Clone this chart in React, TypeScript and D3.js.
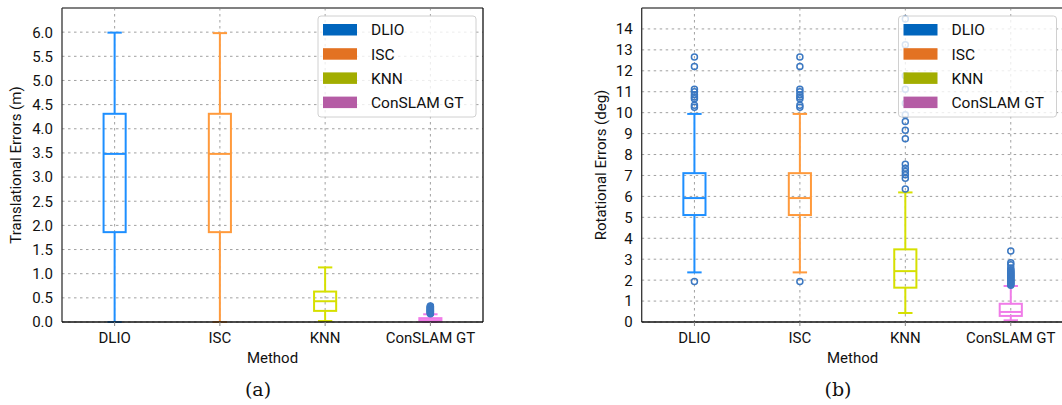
import React from "react";
import * as d3 from "d3";

// categories and legend
const categories = ["DLIO", "ISC", "KNN", "ConSLAM GT"];
const boxColors = ["#1e8fff", "#ff9a3c", "#d6e000", "#f07ce8"];
const legendColors = ["#0065bd", "#e37222", "#a2ad00", "#b55ca5"];

// (a) translational errors (m): box stats per method
const transLow = [0.0, 0.0, 0.02, 0.0];
const transQ1 = [1.86, 1.86, 0.23, 0.01];
const transMed = [3.48, 3.48, 0.43, 0.04];
const transQ3 = [4.31, 4.31, 0.63, 0.08];
const transHigh = [5.99, 5.98, 1.13, 0.16];
const transOutliers = [
  [],
  [],
  [],
  [0.17, 0.18, 0.19, 0.2, 0.21, 0.22, 0.23, 0.24, 0.25, 0.26, 0.27, 0.28, 0.29, 0.3, 0.31, 0.32, 0.33],
];
const transTicks = [0, 0.5, 1, 1.5, 2, 2.5, 3, 3.5, 4, 4.5, 5, 5.5, 6];

// (b) rotational errors (deg)
const rotLow = [2.37, 2.37, 0.43, 0.08];
const rotQ1 = [5.11, 5.11, 1.64, 0.29];
const rotMed = [5.92, 5.92, 2.43, 0.48];
const rotQ3 = [7.11, 7.11, 3.47, 0.87];
const rotHigh = [9.94, 9.94, 6.19, 1.72];
const rotOutliers = [
  [1.94, 10.26, 10.36, 10.67, 10.75, 10.86, 11.0, 11.12, 12.2, 12.66],
  [1.94, 10.26, 10.36, 10.67, 10.75, 10.86, 11.0, 11.12, 12.2, 12.66],
  [6.35, 6.87, 7.03, 7.19, 7.35, 7.54, 8.75, 9.16, 9.58, 9.9, 10.45, 11.12, 11.76, 13.24, 14.47],
  [1.76, 1.8, 1.84, 1.88, 1.92, 1.96, 2.0, 2.04, 2.08, 2.12, 2.16, 2.2, 2.24, 2.28, 2.32, 2.36, 2.4, 2.45, 2.5, 2.58, 2.73, 2.83, 3.39],
];
const rotTicks = [0, 1, 2, 3, 4, 5, 6, 7, 8, 9, 10, 11, 12, 13, 14];

const FONT = "Roboto, 'DejaVu Sans', sans-serif";
const TOP = 8;
const BOTTOM = 322;

type PanelProps = {
  left: number;
  right: number;
  yMax: number;
  ticks: number[];
  fmt: (v: number) => string;
  yLabel: string;
  yLabelX: number;
  caption: string;
  captionX: number;
  low: number[];
  q1: number[];
  med: number[];
  q3: number[];
  high: number[];
  outliers: number[][];
};

const Panel = (p: PanelProps) => {
  const x = d3.scaleBand<string>().domain(categories).range([p.left, p.right]).padding(0);
  const y = d3.scaleLinear().domain([0, p.yMax]).range([BOTTOM, TOP]);
  const boxW = x.bandwidth() * 0.21;
  const capW = boxW * 0.65;
  const midX = (p.left + p.right) / 2;
  const legX = p.right - 165;
  const legY = 16;

  return (
    <g>
      {/* grid */}
      {p.ticks.map((t) => (
        <line key={"gy" + t} x1={p.left} x2={p.right} y1={y(t)} y2={y(t)}
          stroke="#a0a0a0" strokeWidth={1} strokeDasharray="2.5,3.5" />
      ))}
      {categories.map((c) => (
        <line key={"gx" + c} x1={x(c)! + x.bandwidth() / 2} x2={x(c)! + x.bandwidth() / 2}
          y1={TOP} y2={BOTTOM} stroke="#a0a0a0" strokeWidth={1} strokeDasharray="2.5,3.5" />
      ))}

      {/* boxes */}
      {categories.map((c, i) => {
        const cx = x(c)! + x.bandwidth() / 2;
        const col = boxColors[i];
        return (
          <g key={"b" + c} stroke={col} strokeWidth={2} fill="none">
            <line x1={cx} x2={cx} y1={y(p.low[i])} y2={y(p.q1[i])} />
            <line x1={cx} x2={cx} y1={y(p.q3[i])} y2={y(p.high[i])} />
            <line x1={cx - capW / 2} x2={cx + capW / 2} y1={y(p.low[i])} y2={y(p.low[i])} />
            <line x1={cx - capW / 2} x2={cx + capW / 2} y1={y(p.high[i])} y2={y(p.high[i])} />
            <rect x={cx - boxW / 2} width={boxW} y={y(p.q3[i])}
              height={Math.max(0.5, y(p.q1[i]) - y(p.q3[i]))} />
            <line x1={cx - boxW / 2} x2={cx + boxW / 2} y1={y(p.med[i])} y2={y(p.med[i])} />
            {p.outliers[i].map((v, j) => (
              <circle key={j} cx={cx} cy={y(v)} r={3} stroke="#3b78c2" strokeWidth={1.5} fill="none" />
            ))}
          </g>
        );
      })}

      {/* spines */}
      <line x1={p.left} x2={p.right} y1={TOP} y2={TOP} stroke="#808080" strokeWidth={2} />
      <line x1={p.left} x2={p.left} y1={TOP} y2={BOTTOM} stroke="#333" strokeWidth={1.3} />
      <line x1={p.right} x2={p.right} y1={TOP} y2={BOTTOM} stroke="#111" strokeWidth={1.3} />
      <line x1={p.left} x2={p.right} y1={BOTTOM} y2={BOTTOM} stroke="#111" strokeWidth={1.5} />

      {/* y ticks */}
      {p.ticks.map((t) => (
        <text key={"ty" + t} x={p.left - 9} y={y(t)} dy="0.36em" textAnchor="end"
          fontFamily={FONT} fontSize={15} fill="#111">{p.fmt(t)}</text>
      ))}
      {/* x ticks */}
      {categories.map((c) => {
        const cx = x(c)! + x.bandwidth() / 2;
        return (
          <g key={"tx" + c}>
            <line x1={cx} x2={cx} y1={BOTTOM} y2={BOTTOM + 4} stroke="#888" strokeWidth={1} />
            <text x={cx} y={343} textAnchor="middle" fontFamily={FONT} fontSize={15} fill="#111">{c}</text>
          </g>
        );
      })}

      <text x={midX} y={363} textAnchor="middle" fontFamily={FONT} fontSize={15} fill="#111">Method</text>
      <text transform={`translate(${p.yLabelX},${(TOP + BOTTOM) / 2}) rotate(-90)`} dy="0.35em"
        textAnchor="middle" fontFamily={FONT} fontSize={15} fill="#111">{p.yLabel}</text>
      <text x={p.captionX} y={396} textAnchor="middle" fontFamily="'DejaVu Serif', serif"
        fontSize={19} fill="#111">{p.caption}</text>

      {/* legend */}
      <rect x={legX} y={legY} width={158} height={101} rx={3} fill="white" fillOpacity={0.8}
        stroke="#d0d0d0" strokeWidth={1} />
      {categories.map((c, i) => (
        <g key={"l" + c}>
          <rect x={legX + 5} y={legY + 8 + i * 24.2} width={34} height={11.5} fill={legendColors[i]} />
          <text x={legX + 53} y={legY + 13.8 + i * 24.2} dy="0.36em" fontFamily={FONT} fontSize={15.5}
            fill="#111">{c}</text>
        </g>
      ))}
    </g>
  );
};

export default function App() {
  return (
    <svg width={1062} height={405} style={{ position: "absolute", left: 0, top: 0, background: "white" }}>
      <Panel left={62} right={483} yMax={6.5} ticks={transTicks} fmt={d3.format(".1f")}
        yLabel="Translational Errors (m)" yLabelX={16} caption="(a)" captionX={258}
        low={transLow} q1={transQ1} med={transMed} q3={transQ3} high={transHigh} outliers={transOutliers} />
      <Panel left={641.7} right={1063.5} yMax={15} ticks={rotTicks} fmt={d3.format("d")}
        yLabel="Rotational Errors (deg)" yLabelX={601} caption="(b)" captionX={838}
        low={rotLow} q1={rotQ1} med={rotMed} q3={rotQ3} high={rotHigh} outliers={rotOutliers} />
    </svg>
  );
}
